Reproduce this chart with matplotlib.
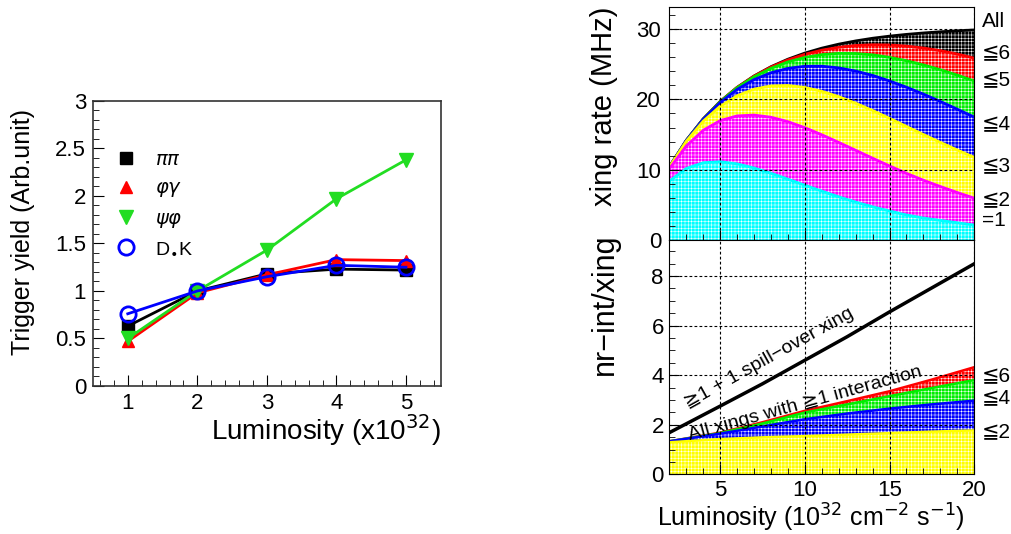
import matplotlib
matplotlib.use("Agg")
import matplotlib.pyplot as plt
from matplotlib.ticker import MultipleLocator

plt.rcParams['font.family'] = ['Liberation Sans', 'DejaVu Sans']
plt.rcParams['hatch.linewidth'] = 0.35

# left panel: trigger yield vs luminosity
lumi = [1, 2, 3, 4, 5]
y_pipi = [0.63, 1.00, 1.18, 1.23, 1.22]
y_phigam = [0.47, 0.98, 1.17, 1.33, 1.32]
y_psiphi = [0.50, 1.00, 1.43, 1.97, 2.38]
y_dsk = [0.76, 1.00, 1.15, 1.27, 1.25]
names = [r'$\pi\pi$', r'$\varphi\gamma$', r'$\psi\varphi$', r'D$_{\bullet}$K']

# right top: xing rate (MHz), cumulative by number of interactions
L_top = [2, 3, 4, 5, 6, 7, 8, 9, 10, 11, 12, 13, 14, 15, 16, 17, 18, 19, 20]
rate_eq1 = [8.36, 10.17, 10.99, 11.13, 10.83, 10.24, 9.49, 8.65, 7.79, 6.95,
            6.14, 5.39, 4.72, 4.12, 3.56, 3.12, 2.78, 2.45, 2.13]
rate_le2 = [10.12, 13.37, 15.60, 16.98, 17.65, 17.77, 17.46, 16.83, 15.97, 14.97,
            13.88, 12.76, 11.63, 10.53, 9.48, 8.50, 7.60, 6.75, 5.95]
rate_le3 = [10.36, 14.04, 16.90, 19.02, 20.52, 21.46, 21.92, 21.98, 21.70, 21.15,
            20.39, 19.46, 18.42, 17.30, 16.15, 15.00, 13.88, 12.80, 11.75]
rate_le4 = [10.39, 14.15, 17.17, 19.56, 21.42, 22.81, 23.79, 24.41, 24.71, 24.72,
            24.48, 24.03, 23.41, 22.62, 21.73, 20.75, 19.70, 18.60, 17.48]
rate_le5 = [10.39, 14.16, 17.21, 19.67, 21.65, 23.21, 24.42, 25.33, 25.97, 26.37,
            26.55, 26.53, 26.34, 25.98, 25.50, 24.90, 24.22, 23.45, 22.62]
rate_le6 = [10.39, 14.16, 17.22, 19.69, 21.70, 23.31, 24.60, 25.62, 26.41, 27.00,
            27.41, 27.67, 27.77, 27.74, 27.58, 27.31, 26.93, 26.45, 25.87]
rate_all = [10.39, 14.16, 17.22, 19.70, 21.71, 23.33, 24.65, 25.72, 26.59, 27.29,
            27.86, 28.32, 28.70, 29.00, 29.25, 29.45, 29.62, 29.76, 29.88]
top_labels = ['All', '≦6', '≦5', '≦4', '≦3', '≦2', '=1']
top_label_y = [31.1, 26.6, 22.8, 16.6, 10.6, 5.7, 2.8]

# right bottom: interactions per xing
L_bot = [2, 5, 7.5, 10, 12.5, 15, 17.5, 20]
n_le2 = [1.29, 1.42, 1.49, 1.54, 1.60, 1.66, 1.72, 1.77]
n_le4 = [1.33, 1.64, 1.93, 2.22, 2.45, 2.65, 2.82, 2.97]
n_le6 = [1.33, 1.66, 2.05, 2.49, 2.82, 3.15, 3.48, 3.80]
n_all = [1.33, 1.68, 2.10, 2.56, 2.95, 3.35, 3.82, 4.32]
n_spill = [1.68, 2.75, 3.65, 4.60, 5.55, 6.55, 7.52, 8.49]
bot_labels = ['≦6', '≦4', '≦2']
bot_label_y = [3.98, 3.1, 1.7]

fig = plt.figure(figsize=(10.12, 5.34), dpi=100)

# ---- left panel
ax = fig.add_axes([0.0919, 0.2772, 0.3436, 0.5337])
ax.plot(lumi, y_pipi, color='black', lw=2, marker='s', ms=9, label=names[0])
ax.plot(lumi, y_phigam, color='red', lw=2, marker='^', ms=9, label=names[1])
ax.plot(lumi, y_psiphi, color='#22dd22', lw=2, marker='v', ms=10, label=names[2])
ax.plot(lumi, y_dsk, color='blue', lw=2, marker='o', ms=11, mfc='none', mew=2,
        label=names[3])
ax.set_xlim(0.5, 5.5)
ax.set_ylim(0, 3)
ax.xaxis.set_major_locator(MultipleLocator(1))
ax.xaxis.set_minor_locator(MultipleLocator(0.2))
ax.yaxis.set_minor_locator(MultipleLocator(0.1))
ax.set_yticks([0, 0.5, 1, 1.5, 2, 2.5, 3], ['0', '0.5', '1', '1.5', '2', '2.5', '3'])
ax.tick_params(which='both', direction='in', labelsize=16, top=False, right=False)
ax.tick_params(which='major', length=8, pad=5)
ax.tick_params(which='minor', length=4)
for s in ax.spines.values():
    s.set_color('#333333')
    s.set_linewidth(1.2)
leg = ax.legend(loc='upper left', bbox_to_anchor=(0.045, 0.85), frameon=False,
                fontsize=14, handlelength=1.0, labelspacing=0.55,
                handletextpad=1.0, borderaxespad=0)
for h in leg.legend_handles:
    h.set_linestyle('none')
ax.text(-0.2, 0.54, 'Trigger yield (Arb.unit)', transform=ax.transAxes,
        rotation=90, ha='center', va='center', fontsize=18)
ax.text(1.0, -0.19, r'Luminosity (x10$^{32}$)', transform=ax.transAxes,
        ha='right', va='baseline', fontsize=20)

grid_kw = dict(color='black', linestyle=(0, (2.5, 2)), linewidth=0.8)

# ---- right top panel
ax1 = fig.add_axes([0.6614, 0.5506, 0.3013, 0.4357])
top_series = [rate_all, rate_le6, rate_le5, rate_le4, rate_le3, rate_le2, rate_eq1]
top_colors = ['black', 'red', '#00ee00', 'blue', '#ffff00', '#ff00ff', '#00ffff']
for vals, c in zip(top_series, top_colors):
    ax1.fill_between(L_top, 0, vals, facecolor=c, edgecolor='white', hatch='+++++',
                     linewidth=0)
    ax1.plot(L_top, vals, color=c, lw=2)
ax1.set_xlim(2, 20)
ax1.set_ylim(0, 33.1)
ax1.xaxis.set_major_locator(MultipleLocator(5))
ax1.xaxis.set_minor_locator(MultipleLocator(1))
ax1.yaxis.set_major_locator(MultipleLocator(10))
ax1.yaxis.set_minor_locator(MultipleLocator(2))
ax1.set_xticklabels([])
ax1.grid(True, which='major', **grid_kw)
ax1.set_axisbelow(False)
ax1.tick_params(which='both', direction='in', labelsize=16, top=False, right=False)
ax1.tick_params(which='major', length=7, pad=6)
ax1.tick_params(which='minor', length=4)
for lab, yv in zip(top_labels, top_label_y):
    ax1.text(20.45, yv, lab, ha='left', va='center', fontsize=15)
fig.text(0.597, 0.80, 'xing rate (MHz)', rotation=90, ha='center', va='center',
         fontsize=21)

# ---- right bottom panel
ax2 = fig.add_axes([0.6614, 0.1118, 0.3013, 0.4388])
bot_series = [n_all, n_le6, n_le4, n_le2]
bot_colors = ['red', '#00ee00', 'blue', '#ffff00']
for vals, c in zip(bot_series, bot_colors):
    ax2.fill_between(L_bot, 0, vals, facecolor=c, edgecolor='white', hatch='+++++',
                     linewidth=0)
    ax2.plot(L_bot, vals, color=c, lw=1.8)
ax2.plot(L_bot, n_spill, color='black', lw=2.5)
ax2.set_xlim(2, 20)
ax2.set_ylim(0, 9.45)
ax2.xaxis.set_major_locator(MultipleLocator(5))
ax2.xaxis.set_minor_locator(MultipleLocator(1))
ax2.yaxis.set_major_locator(MultipleLocator(2))
ax2.yaxis.set_minor_locator(MultipleLocator(0.5))
ax2.grid(True, which='major', **grid_kw)
ax2.set_axisbelow(False)
ax2.tick_params(which='both', direction='in', labelsize=16, top=False, right=False)
ax2.tick_params(which='major', length=7, pad=4)
ax2.tick_params(which='minor', length=4)
for lab, yv in zip(bot_labels, bot_label_y):
    ax2.text(20.45, yv, lab, ha='left', va='center', fontsize=15)
ax2.text(7.9, 4.67, '≧1 + 1 spill−over xing', rotation=29, rotation_mode='anchor',
         ha='center', va='center', fontsize=14)
ax2.text(10.0, 2.85, 'All xings with ≧1 interaction', rotation=15.4,
         rotation_mode='anchor', ha='center', va='center', fontsize=14)
fig.text(0.598, 0.43, 'nr−int/xing', rotation=90, ha='center', va='center',
         fontsize=22)
fig.text(0.801, 0.013, r'Luminosity (10$^{32}$ cm$^{-2}$ s$^{-1}$)', ha='center',
         va='baseline', fontsize=18)

fig.savefig('out.png', dpi=100)
